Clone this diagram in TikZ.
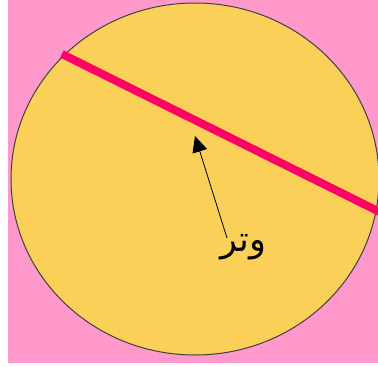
\documentclass[tikz,border=0pt]{standalone}
\usepackage{fontspec}
\newfontfamily\arabicfont[Script=Arabic]{DejaVu Sans}
\TeXXeTstate=1
\usepackage{xcolor}
\usetikzlibrary{arrows.meta, positioning}
\definecolor{bgpink}{HTML}{FF99CC}
\definecolor{discyellow}{HTML}{FAD058}
\definecolor{chordred}{HTML}{FF0066}

\begin{document}
\begin{tikzpicture}[x=1pt, y=-1pt,
    label text/.style={font=\arabicfont\fontsize{35}{40}\selectfont, inner sep=0pt},
    pointer/.style={-{Triangle[length=16pt, width=15pt]}, line width=0.8pt}]
  \useasboundingbox (0,0) rectangle (378,367);
  \clip (0,0) rectangle (378,367);
  \fill[bgpink] (8,0) rectangle (378,363);
  \filldraw[fill=discyellow, draw=black!75, line width=1pt] (195,179) ellipse [x radius=184, y radius=176];
  \draw[chordred, line width=8pt] (62,54) -- (420,232);

  \node[label text] (watar) at (243,247) {\beginR وتر\endR};
  \coordinate (tail) at (227,238);
  \coordinate (tip) at (195,136);
  \draw[pointer] (tail) -- (tip);
\end{tikzpicture}
\end{document}
